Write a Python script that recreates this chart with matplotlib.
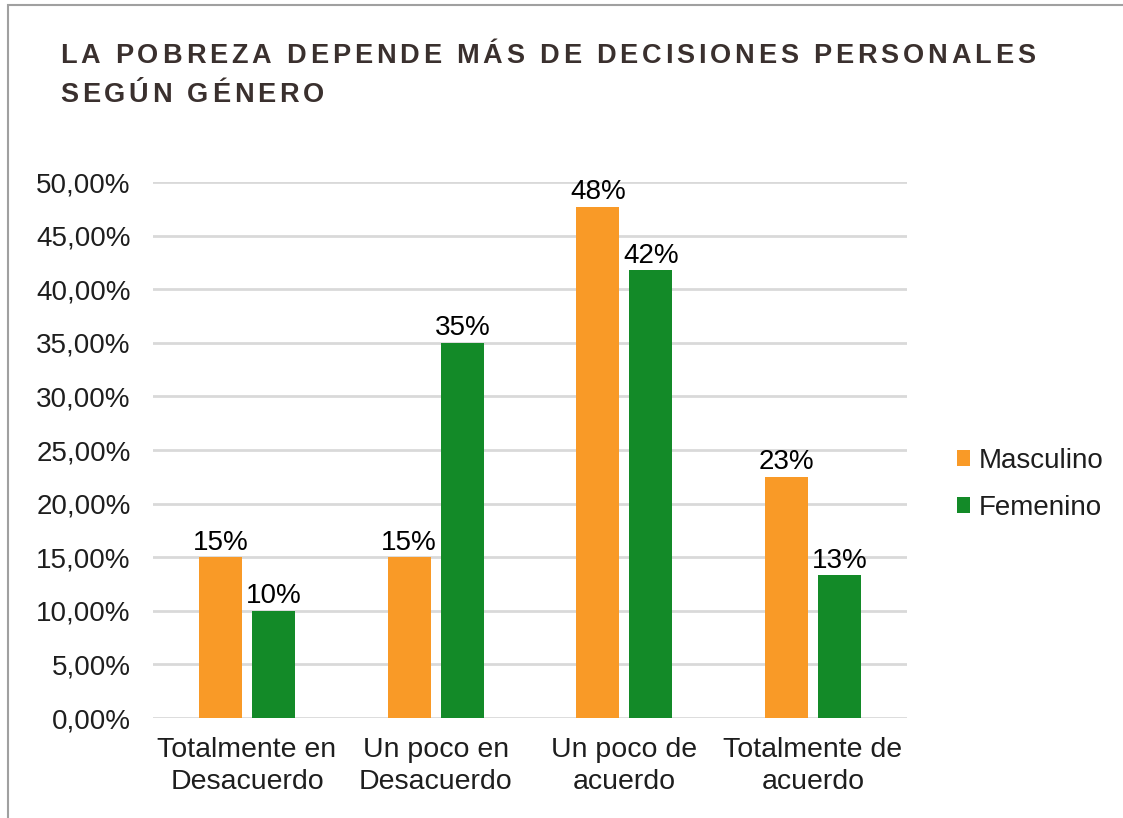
import matplotlib
matplotlib.use("Agg")
import matplotlib.pyplot as plt
import numpy as np
from matplotlib.patches import Rectangle
from matplotlib.ticker import FuncFormatter

plt.rcParams["font.family"] = ["Liberation Sans", "DejaVu Sans"]

# data
categories = ["Totalmente en\nDesacuerdo", "Un poco en\nDesacuerdo",
              "Un poco de\nacuerdo", "Totalmente de\nacuerdo"]
masculino = [0.15, 0.15, 0.477, 0.225]
femenino = [0.10, 0.35, 0.418, 0.133]
masc_labels = ["15%", "15%", "48%", "23%"]
fem_labels = ["10%", "35%", "42%", "13%"]
title_lines = ["LA POBREZA DEPENDE MÁS DE DECISIONES PERSONALES", "SEGÚN GÉNERO"]

ORANGE, GREEN = "#F99A27", "#138A28"
GRID, TEXT, TITLE = "#D9D9D9", "#1E1E1E", "#3A302E"
FS = 20

fig = plt.figure(figsize=(11.23, 8.18), dpi=100)
fig.patch.set_facecolor("white")
fig.patches.append(Rectangle((0.007, -0.02), 1.1, 1.014, transform=fig.transFigure,
                             fill=False, edgecolor="#A0A0A0", linewidth=1.5))

ax = fig.add_axes([0.136, 0.1222, 0.672, 0.6553])
x = np.arange(len(categories))
w = 0.228
off = 0.141
b1 = ax.bar(x - off, masculino, w, color=ORANGE, label="Masculino", zorder=3)
b2 = ax.bar(x + off, femenino, w, color=GREEN, label="Femenino", zorder=3)

for bars, labs in ((b1, masc_labels), (b2, fem_labels)):
    for r, lab in zip(bars, labs):
        ax.annotate(lab, (r.get_x() + r.get_width() / 2, r.get_height()),
                    xytext=(0, 1), textcoords="offset points",
                    ha="center", va="bottom", fontsize=FS, color="black")

ax.set_xlim(-0.5, 3.5)
ax.set_ylim(0, 0.5)
ax.set_yticks(np.arange(0, 0.501, 0.05))
ax.yaxis.set_major_formatter(FuncFormatter(lambda v, _p: f"{v * 100:.2f}%".replace(".", ",")))
ax.set_xticks(x)
ax.set_xticklabels(categories, fontsize=20.5, color=TEXT, linespacing=1.3)
ax.tick_params(axis="y", labelsize=FS, labelcolor=TEXT, length=0, pad=16)
ax.tick_params(axis="x", length=0, pad=14)
ax.grid(axis="y", color=GRID, linewidth=2, zorder=0)
for s in ax.spines.values():
    s.set_visible(False)

# title with wide letter spacing: place characters one by one
renderer = fig.canvas.get_renderer()
tfont = dict(fontsize=19.5, fontweight="bold", color=TITLE, va="center")


def _w(s):
    t = fig.text(0, 0, s, **tfont)
    wd = t.get_window_extent(renderer).width
    t.remove()
    return wd


base = _w("HH")
adv = {c: _w("H" + c + "H") - base for c in set("".join(title_lines))}
line1 = title_lines[0]
track = (975 - sum(adv[c] for c in line1)) / (len(line1) - 1)
W, H = fig.bbox.width, fig.bbox.height
for line, ypx in zip(title_lines, (56, 95)):
    xpx = 60
    for c in line:
        fig.text(xpx / W, 1 - ypx / H, c, **tfont)
        xpx += adv[c] + track

fig.legend(handles=[b1, b2], loc="center left", bbox_to_anchor=(0.83, 0.408),
           frameon=False, fontsize=FS, handlelength=0.48, handleheight=0.48,
           handletextpad=0.3, labelspacing=0.75, labelcolor=TEXT)

fig.savefig("out.png", dpi=100, facecolor=fig.get_facecolor())
